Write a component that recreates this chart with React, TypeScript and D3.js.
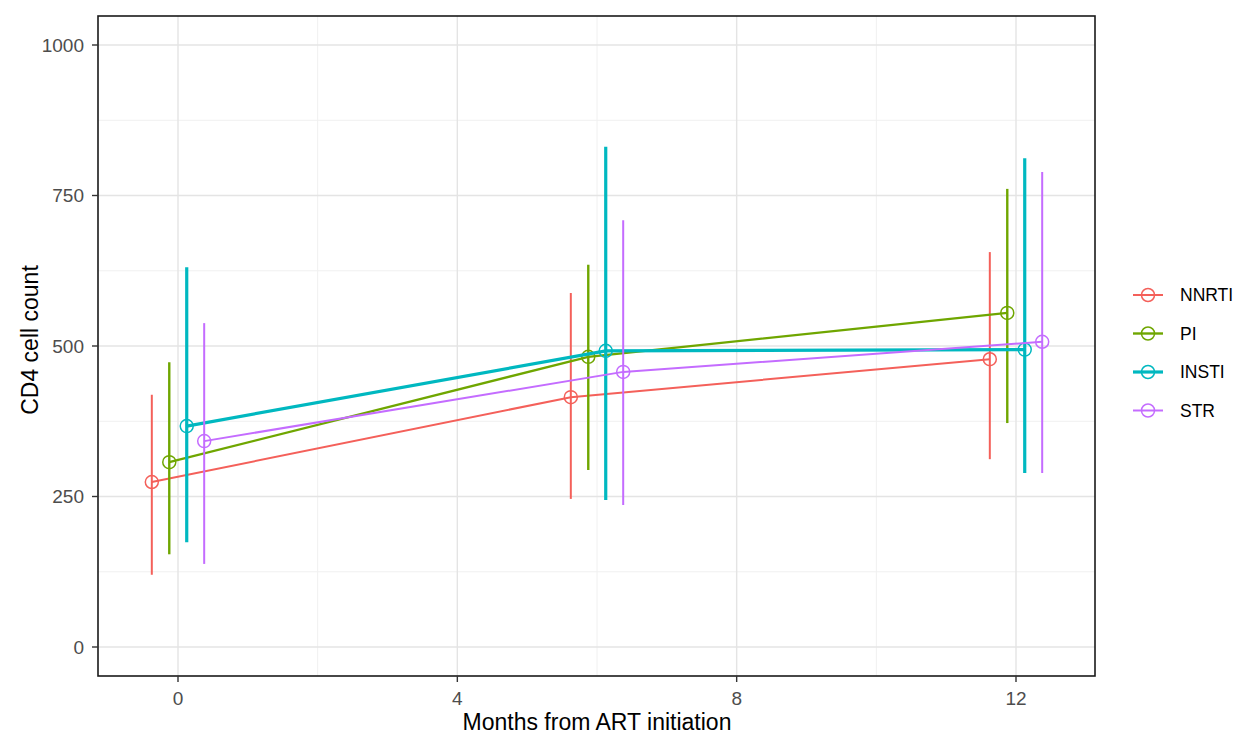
import React from 'react';
import * as d3 from 'd3';

// data
const groups = ['NNRTI', 'PI', 'INSTI', 'STR'];
const months = [0, 6, 12];
const colors = ['#F4605A', '#6FA600', '#00B8C0', '#C46CFF'];
const lineWidths = [2, 2.4, 3.2, 2];
const meanVals = [
  [274, 415, 478],
  [307, 482, 555],
  [367, 492, 494],
  [342, 457, 507],
];
const lowVals = [
  [120, 246, 312],
  [154, 294, 372],
  [174, 244, 289],
  [138, 236, 289],
];
const highVals = [
  [419, 588, 656],
  [473, 635, 761],
  [631, 831, 812],
  [538, 709, 789],
];
const xTicks = [0, 4, 8, 12];
const xMinor = [2, 6, 10];
const yTicks = [0, 250, 500, 750, 1000];
const yMinor = [125, 375, 625, 875];
const dodge = [-0.375, -0.125, 0.125, 0.375];

// layout
const width = 1240;
const height = 734;
const panel = { left: 98, top: 16, right: 1095, bottom: 676 };

const App = () => {
  const x = d3.scaleLinear().domain([0, 12]).range([178, 1016]);
  const y = d3.scaleLinear().domain([0, 1000]).range([647, 45]);

  const line = d3.line<[number, number]>()
    .x(d => x(d[0]))
    .y(d => y(d[1]));

  const font = '"Liberation Sans", Arial, sans-serif';

  return (
    <svg width={width} height={height} style={{ position: 'absolute', left: 0, top: 0 }} fontFamily={font}>
      <rect x={0} y={0} width={width} height={height} fill="#fff" />
      {/* grid */}
      {yMinor.map(v => (
        <line key={'ym' + v} x1={panel.left} x2={panel.right} y1={y(v)} y2={y(v)} stroke="#F0F0F0" strokeWidth={1} />
      ))}
      {xMinor.map(v => (
        <line key={'xm' + v} x1={x(v)} x2={x(v)} y1={panel.top} y2={panel.bottom} stroke="#F0F0F0" strokeWidth={1} />
      ))}
      {yTicks.map(v => (
        <line key={'y' + v} x1={panel.left} x2={panel.right} y1={y(v)} y2={y(v)} stroke="#E4E4E4" strokeWidth={1.4} />
      ))}
      {xTicks.map(v => (
        <line key={'x' + v} x1={x(v)} x2={x(v)} y1={panel.top} y2={panel.bottom} stroke="#E4E4E4" strokeWidth={1.4} />
      ))}

      {/* series */}
      {groups.map((g, gi) => {
        const pts: [number, number][] = months.map((m, mi) => [m + dodge[gi], meanVals[gi][mi]]);
        return (
          <g key={g}>
            <path d={line(pts) || ''} fill="none" stroke={colors[gi]} strokeWidth={lineWidths[gi]} />
            {months.map((m, mi) => (
              <line key={'e' + mi} x1={x(m + dodge[gi])} x2={x(m + dodge[gi])}
                y1={y(lowVals[gi][mi])} y2={y(highVals[gi][mi])}
                stroke={colors[gi]} strokeWidth={lineWidths[gi]} />
            ))}
            {pts.map((p, i) => (
              <circle key={'c' + i} cx={x(p[0])} cy={y(p[1])} r={6.5} fill="none" stroke={colors[gi]} strokeWidth={1.5} />
            ))}
          </g>
        );
      })}

      {/* panel border */}
      <rect x={panel.left} y={panel.top} width={panel.right - panel.left} height={panel.bottom - panel.top}
        fill="none" stroke="#1A1A1A" strokeWidth={1.6} />

      {/* y axis */}
      {yTicks.map(v => (
        <g key={'yt' + v}>
          <line x1={panel.left - 6} x2={panel.left} y1={y(v)} y2={y(v)} stroke="#333" strokeWidth={1.4} />
          <text x={panel.left - 14} y={y(v)} dy="0.35em" textAnchor="end" fontSize={19} fill="#4D4D4D">{v}</text>
        </g>
      ))}
      {/* x axis */}
      {xTicks.map(v => (
        <g key={'xt' + v}>
          <line x1={x(v)} x2={x(v)} y1={panel.bottom} y2={panel.bottom + 6} stroke="#333" strokeWidth={1.4} />
          <text x={x(v)} y={705} textAnchor="middle" fontSize={19} fill="#4D4D4D">{v}</text>
        </g>
      ))}
      <text x={597} y={730} textAnchor="middle" fontSize={23} fill="#000">Months from ART initiation</text>
      <text transform={`translate(38,340) rotate(-90)`} textAnchor="middle" fontSize={23} fill="#000">CD4 cell count</text>

      {/* legend */}
      {groups.map((g, gi) => {
        const ly = 295 + gi * 38.5;
        return (
          <g key={'l' + g}>
            <line x1={1133} x2={1163} y1={ly} y2={ly} stroke={colors[gi]} strokeWidth={lineWidths[gi]} />
            <circle cx={1148} cy={ly} r={6.5} fill="none" stroke={colors[gi]} strokeWidth={1.5} />
            <text x={1180} y={ly} dy="0.35em" fontSize={17.5} fill="#000">{g}</text>
          </g>
        );
      })}
    </svg>
  );
};

export default App;
